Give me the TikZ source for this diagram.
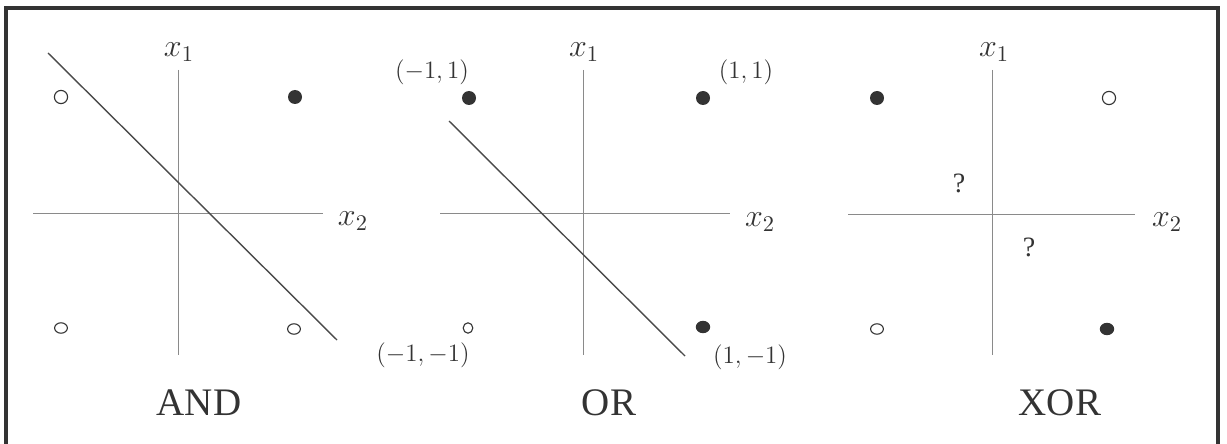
\RequirePackage{fix-cm}
\documentclass[tikz,border=0pt]{standalone}
\usepackage[no-math]{fontspec}
\setmainfont{Liberation Serif}
\usetikzlibrary{shapes.geometric}
\definecolor{ink}{HTML}{333333}
\definecolor{axis}{HTML}{8A8A8A}
\definecolor{sep}{HTML}{4A4A4A}
\tikzset{
  axisline/.style={draw=axis, line width=0.5pt},
  sepline/.style={draw=sep, line width=0.7pt},
  openpt/.style={ellipse, draw=ink, line width=0.55pt, fill=white, minimum width=6.6pt, minimum height=6.6pt, inner sep=0pt},
  opensm/.style={ellipse, draw=ink, line width=0.55pt, fill=white, minimum width=6.4pt, minimum height=5.2pt, inner sep=0pt},
  opentiny/.style={ellipse, draw=ink, line width=0.55pt, fill=white, minimum width=4.8pt, minimum height=5.2pt, inner sep=0pt},
  fullpt/.style={circle, fill=ink, minimum size=7pt, inner sep=0pt},
  fullsm/.style={ellipse, fill=ink, minimum width=7.2pt, minimum height=6.2pt, inner sep=0pt},
  axlab/.style={text=ink, font=\fontsize{16}{19}\selectfont, inner sep=0pt},
  ptlab/.style={text=ink, font=\fontsize{12.5}{15}\selectfont, inner sep=0pt},
  title/.style={text=ink, font=\fontsize{19.5}{23}\selectfont, inner sep=0pt},
  qlab/.style={text=ink, font=\fontsize{14}{16}\selectfont, inner sep=0pt}
}
\begin{document}
\begin{tikzpicture}[x=0.5pt,y=-0.5pt]
\useasboundingbox (0,0) rectangle (1227,444);
\clip (0,0) rectangle (1227,444);
\draw[draw=ink, line width=2pt] (5.5,8.5) rectangle (1218,470);

% ---------- AND ----------
\coordinate (a1t) at (178,70);  \coordinate (a1b) at (178,355);
\coordinate (a2l) at (33,213);  \coordinate (a2r) at (323,213);
\draw[axisline] (a1t) -- (a1b);
\draw[axisline] (a2l) -- (a2r);
\node[axlab] (ax1) at (179,52) {$x_1$};
\node[axlab] (ax2) at (353,221) {$x_2$};
\node[openpt] (ap1) at (61,97) {};
\node[fullpt] (ap2) at (295,97) {};
\node[opensm] (ap3) at (61,328) {};
\node[opensm] (ap4) at (294,329) {};
\coordinate (asA) at (48,53);
\coordinate (asB) at (337,340);
\draw[sepline] (asA) -- (asB);
\node[title] (and) at (199,403) {AND};

% ---------- OR ----------
\coordinate (o1t) at (583,70);  \coordinate (o1b) at (583,355);
\coordinate (o2l) at (440,213); \coordinate (o2r) at (730,213);
\draw[axisline] (o1t) -- (o1b);
\draw[axisline] (o2l) -- (o2r);
\node[axlab] (ox1) at (584,52) {$x_1$};
\node[axlab] (ox2) at (760,222) {$x_2$};
\node[fullpt] (op1) at (469,98) {};
\node[fullpt] (op2) at (703,98) {};
\node[opentiny] (op3) at (468,328) {};
\node[fullsm] (op4) at (703,327) {};
\node[ptlab] (ol1) at (432,72) {$(-1,1)$};
\node[ptlab] (ol2) at (746,72) {$(1,1)$};
\node[ptlab] (ol3) at (423,355) {$(-1,-1)$};
\node[ptlab] (ol4) at (750,357) {$(1,-1)$};
\coordinate (osA) at (449,121);
\coordinate (osB) at (685,356);
\draw[sepline] (osA) -- (osB);
\node[title] (or) at (609,403) {OR};

% ---------- XOR ----------
\coordinate (x1t) at (992,70);  \coordinate (x1b) at (992,355);
\coordinate (x2l) at (848,214); \coordinate (x2r) at (1135,214);
\draw[axisline] (x1t) -- (x1b);
\draw[axisline] (x2l) -- (x2r);
\node[axlab] (xx1) at (994,52) {$x_1$};
\node[axlab] (xx2) at (1167,222) {$x_2$};
\node[fullpt] (xp1) at (877,98) {};
\node[openpt] (xp2) at (1109,98) {};
\node[opensm] (xp3) at (877,329) {};
\node[fullsm] (xp4) at (1107,329) {};
\node[qlab] (q1) at (959,183) {?};
\node[qlab] (q2) at (1029,247) {?};
\node[title] (xor) at (1060,403) {XOR};
\end{tikzpicture}
\end{document}
